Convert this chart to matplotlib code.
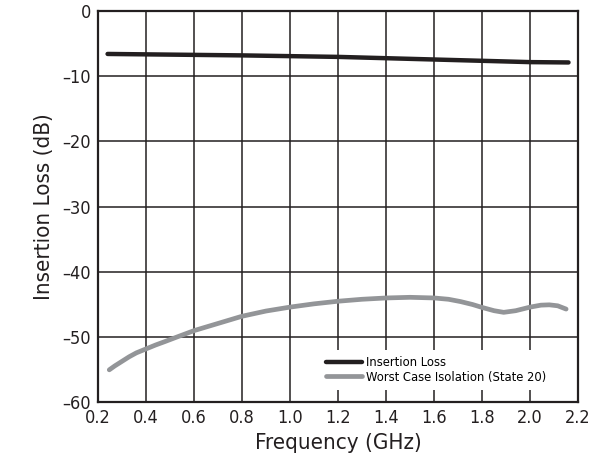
import matplotlib
matplotlib.use("Agg")
import matplotlib.pyplot as plt

plt.rcParams['font.family'] = ['DejaVu Sans']
plt.rcParams['font.stretch'] = 'condensed'

freq_il = [0.24, 0.8, 1.2, 1.6, 2.0, 2.16]
insertion_loss = [-6.65, -6.87, -7.1, -7.5, -7.9, -7.95]

freq_iso = [0.247, 0.27, 0.30, 0.33, 0.36, 0.4, 0.44, 0.477, 0.52, 0.6, 0.7, 0.8, 0.9, 1.0, 1.1, 1.2, 1.3, 1.4, 1.5, 1.6, 1.66, 1.71, 1.76, 1.8, 1.85, 1.89, 1.94, 2.0, 2.045, 2.08, 2.115, 2.15]
isolation = [-55.0, -54.4, -53.7, -53.0, -52.4, -51.8, -51.2, -50.7, -50.1, -49.0, -47.9, -46.8, -46.0, -45.4, -44.9, -44.5, -44.2, -44.0, -43.9, -44.0, -44.2, -44.55, -45.0, -45.45, -45.95, -46.2, -45.95, -45.4, -45.1, -45.05, -45.2, -45.7]

xticks = [0.2, 0.4, 0.6, 0.8, 1.0, 1.2, 1.4, 1.6, 1.8, 2.0, 2.2]
yticks = [0, -10, -20, -30, -40, -50, -60]

fig = plt.figure(figsize=(5.96, 4.69), dpi=100)
ax = fig.add_axes([0.1644, 0.1418, 0.8056, 0.8358])

ax.plot(freq_il, insertion_loss, color='#231f20', lw=3.2, solid_capstyle='round', label='Insertion Loss', zorder=3)
ax.plot(freq_iso, isolation, color='#939598', lw=3.4, solid_capstyle='round', solid_joinstyle='round', label='Worst Case Isolation (State 20)', zorder=3)

ax.set_xlim(0.2, 2.2)
ax.set_ylim(-60, 0)
ax.set_xticks(xticks)
ax.set_xticklabels([f"{v:.1f}" for v in xticks])
ax.set_yticks(yticks)
ax.set_yticklabels([str(v).replace('-', '\u2013') for v in yticks])
ax.grid(True, color='#231f20', lw=1.1)
ax.tick_params(length=0, labelsize=13, pad=5, colors='#231f20')
for s in ax.spines.values():
    s.set_linewidth(1.6)
    s.set_color('#231f20')

ax.set_xlabel('Frequency (GHz)', fontsize=16, color='#231f20', labelpad=4)
ax.set_ylabel('Insertion Loss (dB)', fontsize=16, color='#231f20', labelpad=6)

leg = ax.legend(loc='lower right', bbox_to_anchor=(0.96, 0.015), frameon=True, fontsize=9.3,
                handlelength=2.8, handletextpad=0.3, labelspacing=0.1, borderpad=0.5)
leg.get_frame().set_edgecolor('none')
leg.get_frame().set_facecolor('white')
leg.get_frame().set_alpha(1)
leg.get_frame().set_boxstyle('square', pad=0)

fig.savefig('out.png', dpi=100)
